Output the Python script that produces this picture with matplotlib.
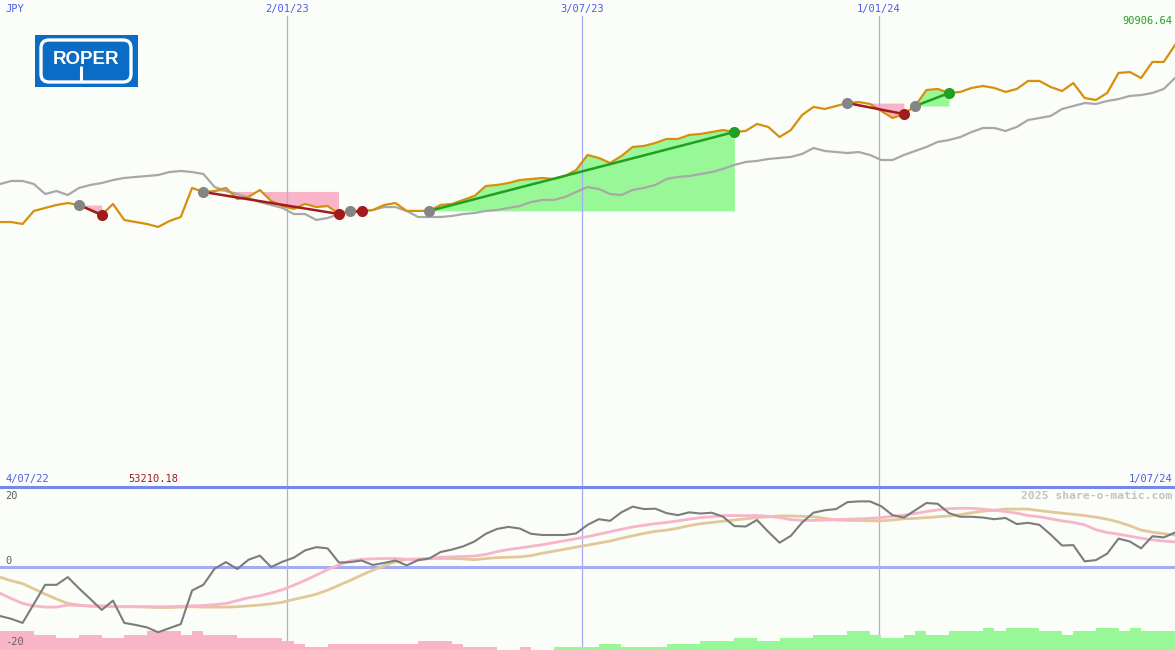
# Share-o-matic style chart: JPY price vs index, with trade markers and momentum panel
import numpy as np
import matplotlib
matplotlib.use('Agg')
import matplotlib.pyplot as plt
from matplotlib.patches import Rectangle, FancyBboxPatch

# ---- data (weekly, 4/07/22 .. 1/07/24) ----
price = [73720, 73720, 73570, 74580, 74810, 75040, 75190, 75040, 74650, 74270,
         75120, 73880, 73720, 73570, 73340, 73800, 74110, 76360, 76050, 76120,
         76360, 75500, 75660, 76200, 75350, 74960, 74730, 75120, 74880, 74960,
         74340, 74580, 74580, 74650, 75040, 75190, 74580, 74580, 74580, 75040,
         75120, 75430, 75740, 76510, 76590, 76740, 76970, 77050, 77130, 77050,
         77280, 77750, 78910, 78680, 78290, 78830, 79530, 79610, 79840, 80150,
         80150, 80460, 80540, 80690, 80840, 80690, 80770, 81310, 81080, 80300,
         80840, 82010, 82630, 82470, 82700, 82930, 83010, 82860, 82320, 81770,
         82080, 82700, 83940, 84020, 83710, 83790, 84100, 84250, 84100, 83790,
         84020, 84640, 84640, 84170, 83860, 84480, 83320, 83170, 83710, 85260,
         85330, 84870, 86110, 86110, 87420]

index = [76660, 76900, 76900, 76660, 75890, 76120, 75810, 76360, 76590, 76740,
         76970, 77130, 77210, 77280, 77360, 77590, 77670, 77590, 77440, 76430,
         76120, 75890, 75580, 75270, 75040, 74810, 74340, 74340, 73880, 74030,
         74340, 74500, 74500, 74650, 74880, 74880, 74580, 74110, 74110, 74110,
         74190, 74340, 74420, 74580, 74650, 74810, 74960, 75270, 75430, 75430,
         75660, 76050, 76430, 76280, 75890, 75810, 76200, 76360, 76590, 77050,
         77210, 77280, 77440, 77590, 77830, 78140, 78370, 78450, 78600, 78680,
         78760, 78990, 79450, 79220, 79140, 79060, 79140, 78910, 78520, 78520,
         78910, 79220, 79530, 79920, 80070, 80300, 80690, 81000, 81000, 80770,
         81080, 81620, 81770, 81930, 82470, 82700, 82930, 82860, 83090, 83240,
         83480, 83550, 83710, 84020, 84870]

momentum = [-12.1, -12.8, -13.8, -9.1, -4.4, -4.4, -2.5, -5.3, -7.9, -10.6,
            -8.3, -13.8, -14.3, -14.9, -16.1, -15.1, -14.1, -5.8, -4.4, -0.4,
            1.2, -0.5, 1.8, 2.8, 0.0, 1.3, 2.3, 4.1, 4.9, 4.6,
            1.1, 1.2, 1.6, 0.5, 1.0, 1.6, 0.4, 1.7, 2.1, 3.7,
            4.3, 5.1, 6.3, 8.2, 9.4, 9.9, 9.5, 8.2, 7.9, 7.9,
            7.9, 8.3, 10.4, 11.8, 11.4, 13.5, 14.9, 14.3, 14.4, 13.3,
            12.8, 13.5, 13.2, 13.4, 12.4, 10.1, 10.0, 11.6, 8.7, 6.0,
            7.7, 11.0, 13.4, 14.0, 14.3, 16.0, 16.2, 16.2, 15.0, 12.8,
            12.2, 14.0, 15.8, 15.6, 13.3, 12.4, 12.4, 12.2, 11.8, 12.1,
            10.6, 10.9, 10.4, 8.0, 5.3, 5.4, 1.4, 1.7, 3.3, 7.0,
            6.3, 4.6, 7.6, 7.3, 8.5]

fast_avg = [-6.5, -7.8, -9.0, -9.6, -9.9, -9.9, -9.4, -9.5, -9.6, -9.6,
            -9.7, -9.8, -9.8, -9.8, -9.8, -9.8, -9.7, -9.6, -9.5, -9.3,
            -9.0, -8.3, -7.6, -7.1, -6.4, -5.6, -4.5, -3.3, -2.0, -0.6,
            0.5, 1.5, 1.9, 2.0, 2.1, 2.1, 1.9, 1.7, 2.1, 2.4,
            2.5, 2.6, 2.7, 3.1, 3.8, 4.3, 4.7, 5.1, 5.5, 6.0,
            6.5, 7.0, 7.5, 8.1, 8.7, 9.3, 9.9, 10.3, 10.7, 11.0,
            11.4, 11.8, 12.2, 12.4, 12.7, 12.7, 12.7, 12.7, 12.5, 12.2,
            11.7, 11.5, 11.5, 11.6, 11.7, 11.8, 11.9, 12.0, 12.2, 12.5,
            12.8, 13.2, 13.7, 14.1, 14.4, 14.5, 14.5, 14.3, 14.0, 13.7,
            13.3, 12.7, 12.4, 11.9, 11.4, 11.0, 10.4, 9.2, 8.5, 8.1,
            7.6, 7.1, 6.7, 6.4, 6.2]

slow_avg = [-2.5, -3.4, -4.1, -5.4, -6.7, -7.9, -9.0, -9.4, -9.7, -9.7,
            -9.8, -9.8, -9.8, -9.9, -10.0, -10.0, -9.9, -9.8, -9.9, -9.9,
            -9.9, -9.8, -9.6, -9.4, -9.1, -8.7, -8.0, -7.4, -6.7, -5.7,
            -4.5, -3.3, -2.0, -0.8, 0.3, 1.3, 1.9, 2.0, 2.1, 2.1,
            2.1, 2.0, 1.8, 2.1, 2.3, 2.4, 2.5, 2.8, 3.4, 3.9,
            4.4, 4.9, 5.4, 5.9, 6.4, 7.1, 7.7, 8.3, 8.8, 9.1,
            9.6, 10.2, 10.7, 11.0, 11.3, 11.6, 11.9, 12.2, 12.4, 12.6,
            12.6, 12.5, 12.4, 12.0, 11.6, 11.5, 11.5, 11.4, 11.4, 11.6,
            11.9, 12.0, 12.2, 12.4, 12.6, 12.9, 13.4, 13.8, 14.0, 14.3,
            14.3, 14.3, 13.9, 13.6, 13.3, 13.0, 12.7, 12.3, 11.8, 11.1,
            10.2, 9.1, 8.6, 8.2, 7.9]

# signed strength level per week (negative = pink, positive = green)
strength = [-6, -6, -6, -5, -5, -4, -4, -5, -5, -4,
            -4, -5, -5, -6, -6, -6, -5, -6, -5, -5,
            -5, -4, -4, -4, -4, -3, -2, -1, -1, -2,
            -2, -2, -2, -2, -2, -2, -2, -3, -3, -3,
            -2, -1, -1, -1, 0, 0, -1, 0, 0, 1,
            1, 1, 1, 2, 2, 1, 1, 1, 1, 2,
            2, 2, 3, 3, 3, 4, 4, 3, 3, 4,
            4, 4, 5, 5, 5, 6, 6, 5, 4, 4,
            5, 6, 5, 5, 6, 6, 6, 7, 6, 7,
            7, 7, 6, 6, 5, 6, 6, 7, 7, 6,
            7, 6, 6, 6]

# trades: (entry week, exit week)
trades = [(7, 9), (18, 30), (31, 32), (38, 65), (75, 80), (81, 84)]

date_lines = [25.4, 51.5, 77.8]
date_labels = ['2/01/23', '3/07/23', '1/01/24']

weeks = np.arange(len(price))
price = np.array(price, dtype=float)
index = np.array(index, dtype=float)

W, H = 1175, 650
bg = '#fbfdf9'
blue_txt = '#4c5ce8'
vline_col = '#a4acf2'
mono = 'DejaVu Sans Mono'

fig = plt.figure(figsize=(11.75, 6.5), dpi=100, facecolor=bg)

# ---- top panel ----
ax = fig.add_axes([0, 163 / H, 1, 487 / H])
ax.set_facecolor(bg)
ax.set_xlim(0, 104)
ax.set_ylim(53210.18, 90906.64)
ax.axis('off')

for x in date_lines:
    ax.axvline(x, ymin=0, ymax=1 - 16 / 487, color=vline_col, lw=0.9, zorder=3)

ax.plot(weeks, index, color='#a8a8a8', lw=1.6, zorder=4)

for a, b in trades:
    xs = weeks[a:b + 1]
    ys = price[a:b + 1]
    e = price[a]
    ax.fill_between(xs, e, ys, where=ys >= e, interpolate=True,
                    color='#98f898', lw=0, zorder=2)
    ax.fill_between(xs, e, ys, where=ys < e, interpolate=True,
                    color='#f9b4c8', lw=0, zorder=2)

ax.plot(weeks, price, color='#d8900c', lw=1.6, zorder=5)

for a, b in trades:
    win = price[b] > price[a]
    col = '#20a020' if win else '#a01c1c'
    ax.plot([a, b], [price[a], price[b]], color=col, lw=1.8, zorder=6)
    ax.plot(a, price[a], 'o', color='#858585', ms=8, mec='none', zorder=7)
    ax.plot(b, price[b], 'o', color=col, ms=8, mec='none', zorder=7)

# ---- lower panel ----
axb = fig.add_axes([0, 0, 1, 163 / H])
axb.set_xlim(0, 104)
axb.set_ylim(0, 163 / 3.1)
axb.axis('off')
bar_cols = ['#98f898' if s > 0 else '#f9b4c8' for s in strength]
axb.bar(np.arange(len(strength)), np.abs(strength), width=1, align='edge',
        color=bar_cols, lw=0, zorder=3)
for x in date_lines:
    axb.axvline(x, color=vline_col, lw=0.9, zorder=1)

axm = fig.add_axes([0, 0, 1, 163 / H])
axm.patch.set_visible(False)
axm.set_xlim(0, 104)
axm.set_ylim(-20.49, 19.75)
axm.axis('off')
axm.axhline(0, color=vline_col, lw=2.2, zorder=1)
axm.plot(weeks, slow_avg, color='#e2c898', lw=2.0, zorder=2)
axm.plot(weeks, fast_avg, color='#f8b4c8', lw=2.0, zorder=3)
axm.plot(weeks, momentum, color='#7c7c7c', lw=1.5, zorder=4)

# separator between panels
fig.add_artist(plt.Line2D([0, 1], [1 - 487 / H, 1 - 487 / H], color='#7888e8', lw=2.2))

# ---- logo ----
axl = fig.add_axes([35 / W, 1 - 87 / H, 103 / W, 52 / H])
axl.set_xlim(0, 103)
axl.set_ylim(52, 0)
axl.axis('off')
axl.add_patch(Rectangle((0, 0), 103, 52, color='#0a6cc4', lw=0))
axl.add_patch(FancyBboxPatch((6, 5), 90, 42, boxstyle='round,pad=0,rounding_size=8',
                             fill=False, ec='white', lw=2.4))
axl.plot([46, 46], [31, 47], color='white', lw=2.2, solid_capstyle='butt')
axl.text(51, 25, 'ROPER', color='white', fontsize=13.5, fontweight='bold',
         family='Liberation Sans', ha='center', va='center')

# ---- labels ----
def label(px, py, s, color, ha='left', size=7.5, weight='normal'):
    fig.text(px / W, 1 - py / H, s, color=color, ha=ha, va='center',
             family=mono, fontsize=size, fontweight=weight)

label(5, 9, 'JPY', blue_txt)
for x, s in zip(date_lines, date_labels):
    label(x / 104 * W, 9, s, blue_txt, ha='center')
label(1172, 21, '90906.64', '#20a020', ha='right')
label(5, 479, '4/07/22', blue_txt)
label(128, 479, '53210.18', '#a01c1c')
label(1172, 479, '1/07/24', blue_txt, ha='right')
label(5, 496, '20', '#606060')
label(5, 561, '0', '#606060')
label(5, 642, '-20', '#606060')
label(1172, 496, '2025 share-o-matic.com', '#c4c4c4', ha='right', size=8.2, weight='bold')

fig.savefig('out.png', dpi=100, facecolor=bg)
